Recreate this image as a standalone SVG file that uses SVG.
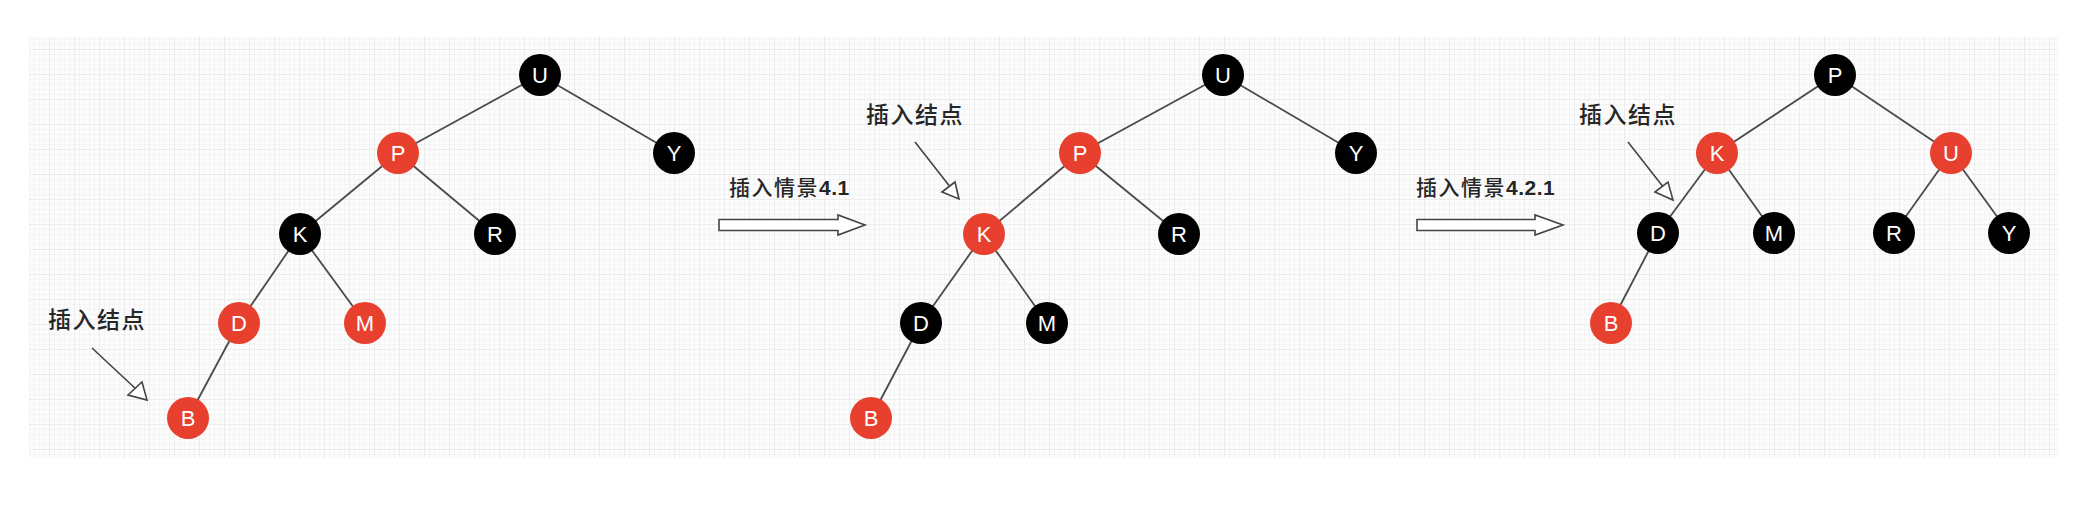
<svg xmlns="http://www.w3.org/2000/svg" width="2092" height="524" viewBox="0 0 2092 524">
<style>
.edge{stroke:#4a4a4a;stroke-width:1.8;fill:none}
.ptr{stroke:#444;stroke-width:1.6;fill:none}
.head{stroke:#444;stroke-width:1.6;fill:#fff;stroke-linejoin:miter}
.red{fill:#e8402f}
.blk{fill:#000}
.lt{font-family:"Liberation Sans",Arial,sans-serif;font-size:22px;fill:#fff;text-anchor:middle}
.lbl{font-family:"Liberation Sans","Noto Sans CJK SC",sans-serif;fill:#262626;font-weight:500;letter-spacing:1.5px}
.num{font-weight:bold;letter-spacing:0.5px}
.big{fill:#fff;stroke:#444;stroke-width:1.6;stroke-linejoin:miter}
</style>
<defs>
<pattern id="minor" width="5" height="5" patternUnits="userSpaceOnUse">
<path d="M5 0V5M0 5H5" stroke="#efefef" stroke-width="1" fill="none"/>
</pattern>
<pattern id="grid" width="25" height="25" patternUnits="userSpaceOnUse">
<rect width="25" height="25" fill="url(#minor)"/>
<path d="M25 0V25M0 25H25" stroke="#e4e4e4" stroke-width="1" fill="none"/>
</pattern>
</defs>
<rect width="2092" height="524" fill="#fff"/>
<rect x="29" y="37" width="2029" height="421" fill="#fcfcfc"/>
<rect x="29" y="37" width="2029" height="421" fill="url(#grid)"/>

<g id="connectors">
<!-- tree 1 -->
<line class="edge" x1="540" y1="75" x2="398" y2="153"/>
<line class="edge" x1="540" y1="75" x2="674" y2="153"/>
<line class="edge" x1="398" y1="153" x2="300" y2="234"/>
<line class="edge" x1="398" y1="153" x2="495" y2="234"/>
<line class="edge" x1="300" y1="234" x2="239" y2="323"/>
<line class="edge" x1="300" y1="234" x2="365" y2="323"/>
<line class="edge" x1="239" y1="323" x2="188" y2="418"/>
<!-- tree 2 -->
<line class="edge" x1="1223" y1="75" x2="1080" y2="153"/>
<line class="edge" x1="1223" y1="75" x2="1356" y2="153"/>
<line class="edge" x1="1080" y1="153" x2="984" y2="234"/>
<line class="edge" x1="1080" y1="153" x2="1179" y2="234"/>
<line class="edge" x1="984" y1="234" x2="921" y2="323"/>
<line class="edge" x1="984" y1="234" x2="1047" y2="323"/>
<line class="edge" x1="921" y1="323" x2="871" y2="418"/>
<!-- tree 3 -->
<line class="edge" x1="1835" y1="75" x2="1717" y2="153"/>
<line class="edge" x1="1835" y1="75" x2="1951" y2="153"/>
<line class="edge" x1="1717" y1="153" x2="1658" y2="233"/>
<line class="edge" x1="1717" y1="153" x2="1774" y2="233"/>
<line class="edge" x1="1951" y1="153" x2="1894" y2="233"/>
<line class="edge" x1="1951" y1="153" x2="2009" y2="233"/>
<line class="edge" x1="1658" y1="233" x2="1611" y2="323"/>
<!-- pointer arrows -->
<line class="ptr" x1="92" y1="348" x2="137" y2="390"/>
<polygon class="head" points="128,395 142,382 147,400"/>
<line class="ptr" x1="915" y1="142" x2="951" y2="188"/>
<polygon class="head" points="942,192 955,182 959,199"/>
<line class="ptr" x1="1628" y1="142" x2="1664" y2="188"/>
<polygon class="head" points="1655,192 1668,182 1673,200"/>
<!-- transition arrows -->
<polygon class="big" points="719,219.5 838,219.5 838,215 865,225 838,235 838,230.5 719,230.5"/>
<polygon class="big" points="1417,219.5 1535,219.5 1535,215 1563,225 1535,235 1535,230.5 1417,230.5"/>
</g>

<g id="t1-U"><circle class="blk" cx="540" cy="75" r="21"/><text class="lt" x="540" y="83">U</text></g>
<g id="t1-P"><circle class="red" cx="398" cy="153" r="21"/><text class="lt" x="398" y="161">P</text></g>
<g id="t1-Y"><circle class="blk" cx="674" cy="153" r="21"/><text class="lt" x="674" y="161">Y</text></g>
<g id="t1-K"><circle class="blk" cx="300" cy="234" r="21"/><text class="lt" x="300" y="242">K</text></g>
<g id="t1-R"><circle class="blk" cx="495" cy="234" r="21"/><text class="lt" x="495" y="242">R</text></g>
<g id="t1-D"><circle class="red" cx="239" cy="323" r="21"/><text class="lt" x="239" y="331">D</text></g>
<g id="t1-M"><circle class="red" cx="365" cy="323" r="21"/><text class="lt" x="365" y="331">M</text></g>
<g id="t1-B"><circle class="red" cx="188" cy="418" r="21"/><text class="lt" x="188" y="426">B</text></g>

<g id="t2-U"><circle class="blk" cx="1223" cy="75" r="21"/><text class="lt" x="1223" y="83">U</text></g>
<g id="t2-P"><circle class="red" cx="1080" cy="153" r="21"/><text class="lt" x="1080" y="161">P</text></g>
<g id="t2-Y"><circle class="blk" cx="1356" cy="153" r="21"/><text class="lt" x="1356" y="161">Y</text></g>
<g id="t2-K"><circle class="red" cx="984" cy="234" r="21"/><text class="lt" x="984" y="242">K</text></g>
<g id="t2-R"><circle class="blk" cx="1179" cy="234" r="21"/><text class="lt" x="1179" y="242">R</text></g>
<g id="t2-D"><circle class="blk" cx="921" cy="323" r="21"/><text class="lt" x="921" y="331">D</text></g>
<g id="t2-M"><circle class="blk" cx="1047" cy="323" r="21"/><text class="lt" x="1047" y="331">M</text></g>
<g id="t2-B"><circle class="red" cx="871" cy="418" r="21"/><text class="lt" x="871" y="426">B</text></g>

<g id="t3-P"><circle class="blk" cx="1835" cy="75" r="21"/><text class="lt" x="1835" y="83">P</text></g>
<g id="t3-K"><circle class="red" cx="1717" cy="153" r="21"/><text class="lt" x="1717" y="161">K</text></g>
<g id="t3-U"><circle class="red" cx="1951" cy="153" r="21"/><text class="lt" x="1951" y="161">U</text></g>
<g id="t3-D"><circle class="blk" cx="1658" cy="233" r="21"/><text class="lt" x="1658" y="241">D</text></g>
<g id="t3-M"><circle class="blk" cx="1774" cy="233" r="21"/><text class="lt" x="1774" y="241">M</text></g>
<g id="t3-R"><circle class="blk" cx="1894" cy="233" r="21"/><text class="lt" x="1894" y="241">R</text></g>
<g id="t3-Y"><circle class="blk" cx="2009" cy="233" r="21"/><text class="lt" x="2009" y="241">Y</text></g>
<g id="t3-B"><circle class="red" cx="1611" cy="323" r="21"/><text class="lt" x="1611" y="331">B</text></g>

<g id="labels">
<text class="lbl" x="48" y="328" font-size="23">插入结点</text>
<text class="lbl" x="866" y="123" font-size="23">插入结点</text>
<text class="lbl" x="1579" y="123" font-size="23">插入结点</text>
<text class="lbl" x="729" y="195" font-size="21">插入情景<tspan class="num">4.1</tspan></text>
<text class="lbl" x="1416" y="195" font-size="21">插入情景<tspan class="num">4.2.1</tspan></text>
</g>
</svg>
